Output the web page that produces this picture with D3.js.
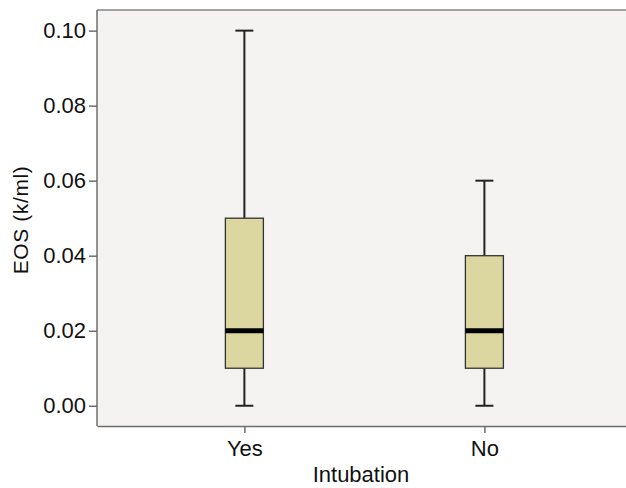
<!DOCTYPE html>
<html>
<head>
<meta charset="utf-8">
<script src="https://cdn.jsdelivr.net/npm/d3@7"></script>
<style>
  body { margin: 0; background: #fff; }
  svg text { font-family: "Liberation Sans", Arial, sans-serif; fill: #111; }
</style>
</head>
<body>
<svg id="chart" width="626" height="488"></svg>
<script>
// box stats per group
const groups = ["Yes", "No"];
const mins = [0.00, 0.00];
const q1s = [0.01, 0.01];
const medians = [0.02, 0.02];
const q3s = [0.05, 0.04];
const maxs = [0.10, 0.06];
const yTicks = [0.00, 0.02, 0.04, 0.06, 0.08, 0.10];

const svg = d3.select("#chart");
const plotLeft = 97, plotRight = 626, plotTop = 10, plotBottom = 426;

const x = d3.scalePoint().domain(groups).range([plotLeft, plotRight]).padding(0.602).align(0.51);
const y = d3.scaleLinear().domain([-0.0054, 0.1055]).range([plotBottom, plotTop]);

// plot background
svg.append("rect")
    .attr("x", plotLeft).attr("y", plotTop)
    .attr("width", plotRight - plotLeft).attr("height", plotBottom - plotTop)
    .attr("fill", "#f4f3f1");
svg.append("line")
    .attr("x1", plotLeft).attr("x2", plotRight)
    .attr("y1", plotTop).attr("y2", plotTop)
    .attr("stroke", "#858585").attr("stroke-width", 1.5);

// axes
const yAxis = svg.append("g")
    .attr("transform", `translate(${plotLeft},0)`)
    .call(d3.axisLeft(y).tickValues(yTicks).tickFormat(d3.format(".2f"))
        .tickSizeInner(8).tickSizeOuter(0).tickPadding(3));
const xAxis = svg.append("g")
    .attr("transform", `translate(0,${plotBottom})`)
    .call(d3.axisBottom(x).tickSizeInner(7).tickSizeOuter(0).tickPadding(7));
yAxis.select(".domain").attr("d", `M0,${plotTop}V${plotBottom}`);
[yAxis, xAxis].forEach(a => {
    a.select(".domain").attr("stroke", "#6e6e6e").attr("stroke-width", 1.5);
    a.selectAll(".tick line").attr("stroke", "#6e6e6e").attr("stroke-width", 1.5);
    a.selectAll(".tick text").attr("font-size", 22).attr("fill", "#111");
});

const boxW = 38, capW = 18;
const data = groups.map((g, i) => ({
    g, min: mins[i], q1: q1s[i], med: medians[i], q3: q3s[i], max: maxs[i]
}));

const box = svg.append("g").selectAll("g").data(data).enter().append("g");

// whiskers
box.append("line")
    .attr("x1", d => x(d.g)).attr("x2", d => x(d.g))
    .attr("y1", d => y(d.max)).attr("y2", d => y(d.q3))
    .attr("stroke", "#222").attr("stroke-width", 2);
box.append("line")
    .attr("x1", d => x(d.g)).attr("x2", d => x(d.g))
    .attr("y1", d => y(d.q1)).attr("y2", d => y(d.min))
    .attr("stroke", "#222").attr("stroke-width", 2);
// caps
["max", "min"].forEach(k => {
    box.append("line")
        .attr("x1", d => x(d.g) - capW / 2).attr("x2", d => x(d.g) + capW / 2)
        .attr("y1", d => y(d[k])).attr("y2", d => y(d[k]))
        .attr("stroke", "#222").attr("stroke-width", 2);
});
// box
box.append("rect")
    .attr("x", d => x(d.g) - boxW / 2)
    .attr("y", d => y(d.q3))
    .attr("width", boxW)
    .attr("height", d => y(d.q1) - y(d.q3))
    .attr("fill", "#dcd6a0")
    .attr("stroke", "#333")
    .attr("stroke-width", 1.3);
// median
box.append("line")
    .attr("x1", d => x(d.g) - boxW / 2).attr("x2", d => x(d.g) + boxW / 2)
    .attr("y1", d => y(d.med)).attr("y2", d => y(d.med))
    .attr("stroke", "#000").attr("stroke-width", 5);

// axis titles
svg.append("text")
    .attr("x", 361).attr("y", 482)
    .attr("text-anchor", "middle").attr("font-size", 22)
    .text("Intubation");
svg.append("text")
    .attr("transform", `translate(28,220) rotate(-90)`)
    .attr("text-anchor", "middle").attr("font-size", 21)
    .attr("letter-spacing", 0.6)
    .text("EOS (k/ml)");
</script>
</body>
</html>
